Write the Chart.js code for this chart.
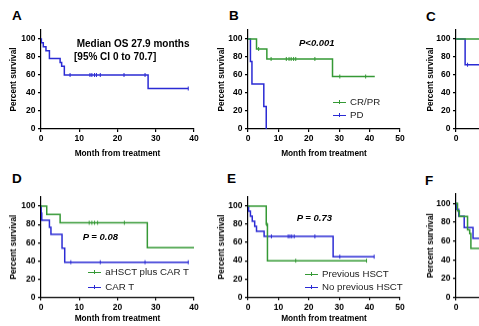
<!DOCTYPE html>
<html>
<head>
<meta charset="utf-8">
<script src="https://cdn.jsdelivr.net/npm/chart.js@4.4.0/dist/chart.umd.min.js"></script>
<style>
html, body { margin: 0; padding: 0; background: #fff; overflow: hidden; }
#fig { position: relative; width: 479px; height: 326px; overflow: hidden; font-family: "Liberation Sans", Arial, sans-serif; }
#fig canvas { position: absolute; }
.lbl { position: absolute; white-space: nowrap; color: #000; }
.letter { font-size: 13.5px; font-weight: bold; line-height: 13px; }
.pval { font-size: 9.5px; font-weight: bold; font-style: italic; line-height: 10px; }
.note { font-size: 10px; font-weight: bold; line-height: 10px; }
.leg { font-size: 9.7px; line-height: 10px; color: #222; display: flex; align-items: center; }
.leg i { display: inline-block; width: 13px; height: 0; border-top: 1.4px solid; position: relative; margin-right: 4px; }
.leg i::after { content: ""; position: absolute; left: 6px; top: -2.6px; height: 4px; border-left: 1px solid; }
</style>
</head>
<body>
<div id="fig">
  <canvas id="chartA"></canvas>
  <canvas id="chartB"></canvas>
  <canvas id="chartC"></canvas>
  <canvas id="chartD"></canvas>
  <canvas id="chartE"></canvas>
  <canvas id="chartF"></canvas>

  <div class="lbl letter" style="left:12px;top:9px">A</div>
  <div class="lbl letter" style="left:229px;top:8.6px">B</div>
  <div class="lbl letter" style="left:426px;top:9.8px">C</div>
  <div class="lbl letter" style="left:12px;top:172.3px">D</div>
  <div class="lbl letter" style="left:227px;top:172px">E</div>
  <div class="lbl letter" style="left:425px;top:173.6px">F</div>

  <div class="lbl note" style="left:76.7px;top:38.7px">Median OS 27.9 months</div>
  <div class="lbl note" style="left:74px;top:51.5px">[95% CI 0 to 70.7]</div>

  <div class="lbl pval" style="left:299px;top:37.8px">P&lt;0.001</div>
  <div class="lbl pval" style="left:82.7px;top:232.4px">P = 0.08</div>
  <div class="lbl pval" style="left:296.7px;top:213.4px">P = 0.73</div>

  <div class="lbl leg" style="left:333px;top:97px"><i style="color:#359935"></i>CR/PR</div>
  <div class="lbl leg" style="left:333px;top:110.3px"><i style="color:#2b2bd4"></i>PD</div>
  <div class="lbl leg" style="left:88.3px;top:267.3px"><i style="color:#359935"></i>aHSCT plus CAR T</div>
  <div class="lbl leg" style="left:88.3px;top:282.3px"><i style="color:#2b2bd4"></i>CAR T</div>
  <div class="lbl leg" style="left:305px;top:269px"><i style="color:#359935"></i>Previous HSCT</div>
  <div class="lbl leg" style="left:305px;top:282.3px"><i style="color:#2b2bd4"></i>No previous HSCT</div>
</div>

<script>
const FONT = "'Liberation Sans', Arial, sans-serif";
const GREEN = '#359935';
const BLUE = '#2b2bd4';

// A: all patients
const aTime = [0, 0.1, 0.6, 1.3, 2.2, 5.0, 5.4, 6.1, 28.0, 38.5];
const aSurv = [100, 95.7, 91.3, 87.0, 78.3, 73.9, 69.6, 60.0, 45.0, 45.0];
const aCens = [7.6, 12.8, 13.3, 14.0, 14.5, 15.5, 21.7, 27.2, 38.5];

// B: CR/PR vs PD
const bCrTime = [0, 2.8, 6.2, 27.8, 41.7];
const bCrSurv = [100, 88.9, 77.8, 58.3, 58.3];
const bCrCens = [3.5, 7.6, 12.6, 13.5, 14.2, 15.0, 15.7, 22.0, 30.2, 38.7];
const bPdTime = [0, 0.8, 1.3, 5.2, 6.0];
const bPdSurv = [100, 75, 50, 25, 0];
const bPdCens = [];

// C: only the first months are visible
const cGreenTime = [0, 20];
const cGreenSurv = [100, 100];
const cBlueTime = [0, 3.0, 20];
const cBlueSurv = [100, 71.4, 71.4];
const cBlueCens = [3.8];

// D: aHSCT plus CAR T vs CAR T
const dComboTime = [0, 1.5, 5.0, 27.8, 40];
const dComboSurv = [100, 90.9, 81.8, 54.5, 54.5];
const dComboCens = [12.6, 13.3, 14.0, 14.8, 21.8];
const dCarTime = [0, 0.05, 0.2, 2.2, 2.6, 5.5, 6.2, 38.5];
const dCarSurv = [100, 92.3, 84.6, 76.9, 69.2, 53.8, 38.5, 38.5];
const dCarCens = [7.8, 15.5, 27.2, 38.5];

// E: previous HSCT vs none
const ePrevTime = [0, 6.0, 6.4, 39.0];
const ePrevSurv = [100, 80, 40, 40];
const ePrevCens = [6.2, 15.7, 39.0];
const eNoTime = [0, 0.2, 0.8, 1.4, 2.2, 2.8, 5.3, 28.0, 41.5];
const eNoSurv = [100, 94.4, 88.9, 83.3, 77.8, 72.2, 66.7, 44.4, 44.4];
const eNoCens = [7.7, 13.2, 13.8, 14.4, 15.2, 22.0, 30.2, 41.5];

// F: only the first months are visible
const fGreenTime = [0, 0.5, 1.1, 3.8, 4.5, 4.9, 15];
const fGreenSurv = [100, 92, 86, 72, 68, 52, 52];
const fBlueTime = [0, 0.2, 0.9, 2.7, 5.6, 15];
const fBlueSurv = [100, 93.6, 86.4, 74.3, 62.9, 62.9];

function survAt(t, s, x) {
    let v = s[0];
    for (let i = 0; i < t.length; i++) {
        if (t[i] <= x) v = s[i];
    }
    return v;
}

function curve(t, s, cens, color) {
    return [
        {
            data: t.map((x, i) => ({ x: x, y: s[i] })),
            borderColor: color,
            borderWidth: 1.5,
            stepped: true,
            pointRadius: 0,
            fill: false
        },
        {
            data: (cens || []).map(x => ({ x: x, y: survAt(t, s, x) })),
            showLine: false,
            pointStyle: 'line',
            rotation: 90,
            pointRadius: 2,
            borderColor: color,
            borderWidth: 1
        }
    ];
}

// g: y axis x position, plot top/bottom, right end of x axis, axis titles position
function drawPanel(id, g, datasets) {
    const cv = document.getElementById(id);
    const yw = 36;
    const padR = 12;
    const left = g.ax - yw;
    const top = g.top - 2;
    const xh = g.titleY + 5 - g.bottom;
    const w = g.right + padR - left;
    const h = g.bottom + xh - top;
    cv.width = w;
    cv.height = h;
    cv.style.left = left + 'px';
    cv.style.top = top + 'px';
    cv.style.width = w + 'px';
    cv.style.height = h + 'px';

    const tickFont = { family: FONT, size: 8.5, weight: 'bold' };
    const titleFont = { family: FONT, size: 8.3, weight: 'bold' };

    new Chart(cv.getContext('2d'), {
        type: 'line',
        data: { datasets: datasets },
        options: {
            responsive: false,
            animation: false,
            layout: { padding: { left: 0, right: padR, top: 2, bottom: 0 } },
            plugins: { legend: { display: false }, tooltip: { enabled: false } },
            scales: {
                x: {
                    type: 'linear',
                    min: 0,
                    max: g.xMax,
                    ticks: { stepSize: 10, font: tickFont, color: '#000', padding: 2, maxRotation: 0 },
                    grid: { display: true, drawOnChartArea: false, tickLength: 3, color: '#000', lineWidth: 1.2 },
                    border: { color: '#000', width: 1.2 },
                    title: { display: true, text: 'Month from treatment', font: titleFont, color: '#000', padding: { top: 0, bottom: 0 } },
                    afterFit: s => { s.height = xh; s.paddingLeft = 0; s.paddingRight = 0; }
                },
                y: {
                    min: 0,
                    max: 110,
                    ticks: { stepSize: 20, includeBounds: false, font: tickFont, color: '#000', padding: 2.5 },
                    grid: { display: true, drawOnChartArea: false, tickLength: 3, color: '#000', lineWidth: 1.2 },
                    border: { color: '#000', width: 1.2 },
                    title: { display: true, text: 'Percent survival', font: titleFont, color: '#000', padding: { top: g.titleX - left - 5, bottom: 0 } },
                    afterFit: s => { s.width = yw; s.paddingTop = 0; s.paddingBottom = 0; }
                }
            }
        }
    });
}

drawPanel('chartA', { ax: 41, top: 27, bottom: 129, right: 194, xMax: 40, titleX: 13.4, titleY: 154 },
    curve(aTime, aSurv, aCens, BLUE));

drawPanel('chartB', { ax: 248, top: 27, bottom: 129, right: 400, xMax: 50, titleX: 221.7, titleY: 154 },
    curve(bCrTime, bCrSurv, bCrCens, GREEN).concat(curve(bPdTime, bPdSurv, bPdCens, BLUE)));

drawPanel('chartC', { ax: 456, top: 27, bottom: 129, right: 608, xMax: 50, titleX: 431, titleY: 154 },
    curve(cGreenTime, cGreenSurv, [], GREEN).concat(curve(cBlueTime, cBlueSurv, cBlueCens, BLUE)));

drawPanel('chartD', { ax: 41, top: 194, bottom: 297, right: 194, xMax: 40, titleX: 13.4, titleY: 318.5 },
    curve(dComboTime, dComboSurv, dComboCens, GREEN).concat(curve(dCarTime, dCarSurv, dCarCens, BLUE)));

drawPanel('chartE', { ax: 248, top: 194, bottom: 297, right: 400, xMax: 50, titleX: 221.7, titleY: 318.8 },
    curve(ePrevTime, ePrevSurv, ePrevCens, GREEN).concat(curve(eNoTime, eNoSurv, eNoCens, BLUE)));

drawPanel('chartF', { ax: 456, top: 194, bottom: 297, right: 608, xMax: 50, titleX: 431, titleY: 318.5 },
    curve(fGreenTime, fGreenSurv, [], GREEN).concat(curve(fBlueTime, fBlueSurv, [], BLUE)));
</script>
</body>
</html>
